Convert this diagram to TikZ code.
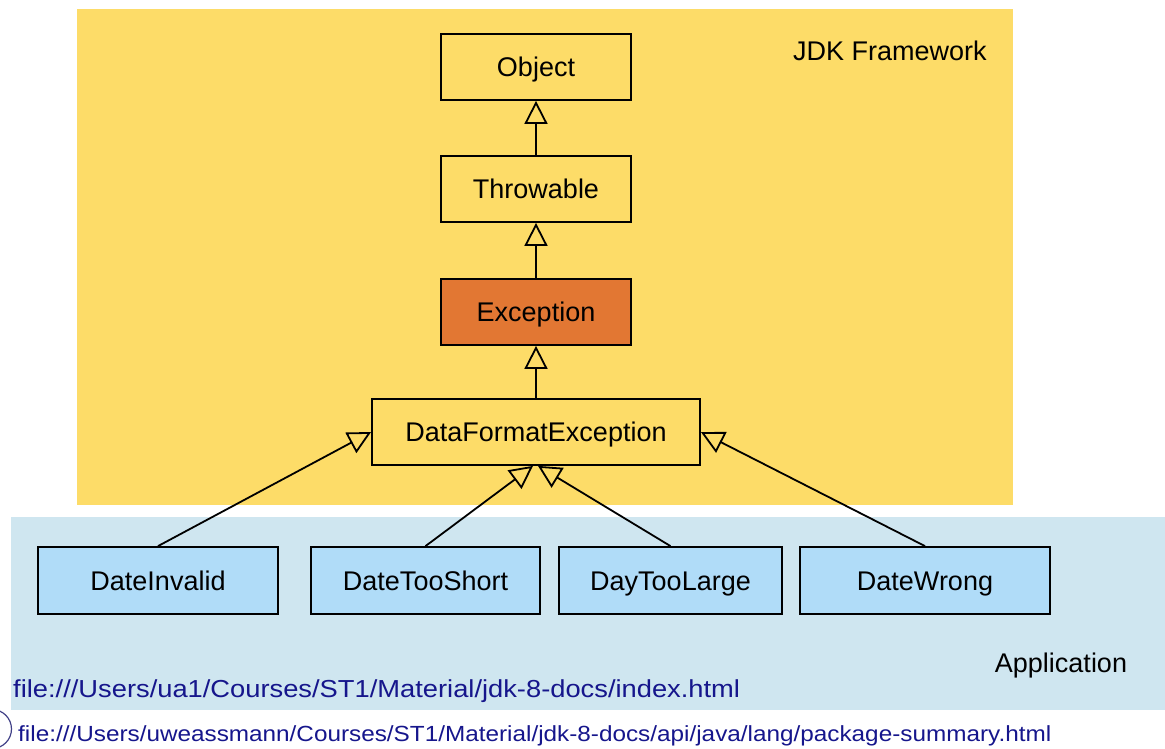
\documentclass[tikz,border=0pt]{standalone}
\usepackage{fontspec}
\setmainfont{Liberation Sans}
\newfontfamily\linkfont[FakeStretch=1.11]{Liberation Sans}
\usetikzlibrary{arrows.meta,positioning}

\definecolor{jdkyellow}{RGB}{253,220,104}
\definecolor{excorange}{RGB}{226,119,51}
\definecolor{appbg}{RGB}{207,230,240}
\definecolor{appbox}{RGB}{176,220,248}
\definecolor{linkblue}{RGB}{22,22,140}

\tikzset{
    label27/.style={inner sep=0pt, text height=19.5pt, text depth=0pt,
        font=\fontsize{27}{30}\selectfont},
    klass/.style={label27, draw, line width=1.8pt, fill=jdkyellow, minimum height=66pt},
    appklass/.style={klass, fill=appbox, minimum height=67pt},
    inh/.style={line width=1.8pt, -{Triangle[open, length=23pt, width=23pt]}},
    linktext/.style={anchor=base west, inner sep=0pt, text=linkblue}
}

\begin{document}
\begin{tikzpicture}[x=1pt, y=-1pt]
        \useasboundingbox (0,0) rectangle (1165,749);

        % Nền: JDK Framework và Application
        \fill[jdkyellow] (77,9) rectangle (1013,505);
        \fill[appbg] (11,517) rectangle (1165,710);
        \node[label27] (jdk) at (890,51) {JDK Framework};
        \node[label27] (app) at (1061,663) {Application};

        % Các lớp của JDK
        \node[klass, minimum width=190pt] (object) at (536,67) {Object};
        \node[klass, minimum width=190pt] (throwable) at (536,189) {Throwable};
        \node[klass, minimum width=190pt, fill=excorange] (exception) at (536,312) {Exception};
        \node[klass, minimum width=328pt] (dfe) at (536,432) {DataFormatException};

        % Các lớp của ứng dụng
        \node[appklass, minimum width=240pt] (dateinvalid) at (158,580.5) {DateInvalid};
        \node[appklass, minimum width=229pt] (datetooshort) at (425.5,580.5) {DateTooShort};
        \node[appklass, minimum width=223pt] (daytoolarge) at (670.5,580.5) {DayTooLarge};
        \node[appklass, minimum width=250pt] (datewrong) at (925,580.5) {DateWrong};

        % Quan hệ kế thừa
        \draw[inh] (throwable) -- (object);
        \draw[inh] (exception) -- (throwable);
        \draw[inh] (dfe) -- (exception);
        \draw[inh] (dateinvalid.north) -- (dfe.west);
        \draw[inh] (datetooshort.north) -- ([xshift=-3pt]dfe.south);
        \draw[inh] (daytoolarge.north) -- ([xshift=2pt]dfe.south);
        \draw[inh] (datewrong.north) -- (dfe.east);

        % Đường dẫn tài liệu
        \node[linktext, font=\linkfont\fontsize{24.6}{28}\selectfont] (link1) at (13,697)
            {file:///Users/ua1/Courses/ST1/Material/jdk-8-docs/index.html};
        \node[linktext, font=\linkfont\fontsize{21.9}{26}\selectfont] (link2) at (18,741)
            {file:///Users/uweassmann/Courses/ST1/Material/jdk-8-docs/api/java/lang/package-summary.html};

        % Logo bị cắt ở lề trái
        \draw[linkblue!60!gray, line width=1.2pt] (-8,729) circle (19.5);
    \end{tikzpicture}
\end{document}
